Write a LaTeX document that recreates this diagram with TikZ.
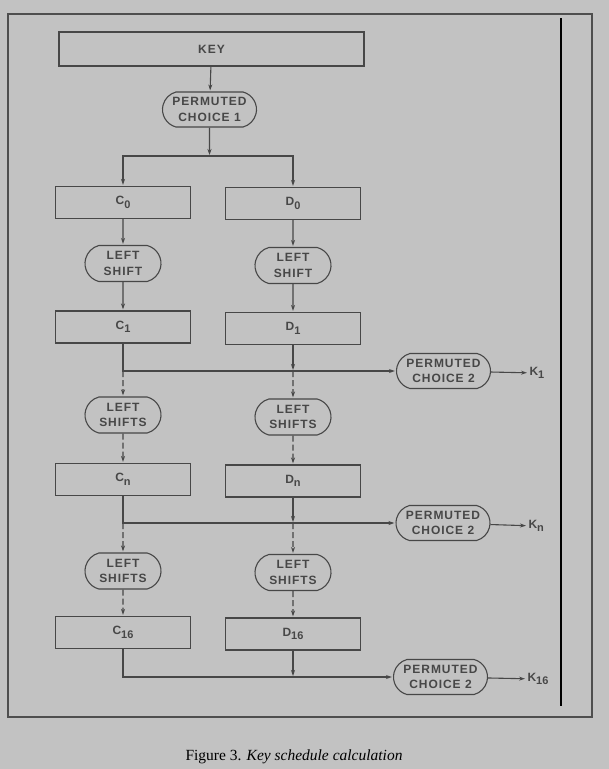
\documentclass[tikz,border=0pt]{standalone}
\usepackage{fontspec}
\setmainfont{Liberation Serif}
\newfontfamily\diafont[LetterSpace=8]{Liberation Sans}
\usepackage{tikz}
\usetikzlibrary{positioning}
\usetikzlibrary{shapes.misc}
\usetikzlibrary{arrows.meta}
\definecolor{bg}{HTML}{C2C2C2}
\definecolor{ink}{HTML}{474747}
\definecolor{frm}{HTML}{4E4E4E}
\tikzstyle{blk}=[draw,rectangle,minimum width=135pt,minimum height=32pt,inner sep=2pt]
\tikzstyle{op}=[draw,shape=rounded rectangle,rounded rectangle arc length=150,minimum width=80pt,minimum height=36pt,inner sep=2pt,align=center]
\tikzstyle{pc}=[op,minimum width=98pt,minimum height=35pt]
\tikzstyle{dsh}=[dash pattern=on 6pt off 3pt]
\tikzstyle{kl}=[inner sep=1pt,anchor=west]
\def\sub#1{\raisebox{-3.5pt}{\addfontfeature{LetterSpace=0}\fontsize{11}{11}\selectfont #1}}

\begin{document}
\begin{tikzpicture}[x=1pt,y=-1pt,shorten >=1pt,>={Stealth[length=6pt,width=4pt]},line width=1.1pt,color=ink,
    every node/.style={font=\diafont\bfseries\fontsize{12}{15.5}\selectfont}]
    \fill [bg] (0,0) rectangle (609,769);
    \useasboundingbox (0,0) rectangle (609,769);
    \draw [line width=1.6pt, frm] (8,14) rectangle (592,717);
    \draw [line width=1.3pt, black] (561,18) -- (561,707);

    \node [blk, minimum width=305pt, minimum height=34pt] (key) at (211.5,49) {KEY};
    \node [pc] (pc1)  at (209.5,109.5) {PERMUTED\\CHOICE 1};
    \coordinate (sp)  at (209.5,156);

    \node [blk] (c0)   at (123,202.5) {C\sub{0}};
    \node [blk] (d0)   at (293,203.5) {D\sub{0}};
    \node [op]  (lsc1) at (123,263.5) {LEFT\\SHIFT};
    \node [op]  (lsd1) at (293,265.5) {LEFT\\SHIFT};
    \node [blk] (c1)   at (123,327)   {C\sub{1}};
    \node [blk] (d1)   at (293,328.5) {D\sub{1}};
    \node [pc]  (p1)   at (443.5,371) {PERMUTED\\CHOICE 2};
    \node [kl]  (k1)   at (528,373)   {K\sub{1}};

    \node [op]  (lsc2) at (123,415)   {LEFT\\SHIFTS};
    \node [op]  (lsd2) at (293,417)   {LEFT\\SHIFTS};
    \node [blk] (cn)   at (123,479.5) {C\sub{n}};
    \node [blk] (dn)   at (293,481)   {D\sub{n}};
    \node [pc]  (p2)   at (443,523)   {PERMUTED\\CHOICE 2};
    \node [kl]  (kn)   at (527,526)   {K\sub{n}};

    \node [op]  (lsc3) at (123,571)   {LEFT\\SHIFTS};
    \node [op]  (lsd3) at (293,572.5) {LEFT\\SHIFTS};
    \node [blk] (c16)  at (123,632.5) {C\sub{16}};
    \node [blk] (d16)  at (293,634)   {D\sub{16}};
    \node [pc]  (p3)   at (440.5,677) {PERMUTED\\CHOICE 2};
    \node [kl]  (k16)  at (526,679)   {K\sub{16}};

    \coordinate (j1) at (c1 |- p1);
    \coordinate (j2) at (cn |- p2);
    \coordinate (j3) at (c16 |- p3);

    \path [->] (key) edge (pc1)
               (c0) edge (lsc1)  (lsc1) edge (c1)
               (d0) edge (lsd1)  (lsd1) edge (d1);
    \draw [->] (pc1) -- (sp);
    \draw [->] (sp) -| (c0);
    \draw [->] (sp) -| (d0);

    \draw [->] (c1) -- (j1) -- (p1);
    \draw [->] (d1) -- (d1 |- p1);
    \draw [->] (p1) -- (k1);
    \draw [->, dsh] (j1) -- (lsc2);
    \draw [->, dsh] (d1 |- p1) -- (lsd2);
    \draw [->, dsh] (lsc2) -- (cn);
    \draw [->, dsh] (lsd2) -- (dn);

    \draw [->] (cn) -- (j2) -- (p2);
    \draw [->] (dn) -- (dn |- p2);
    \draw [->] (p2) -- (kn);
    \draw [->, dsh] (j2) -- (lsc3);
    \draw [->, dsh] (dn |- p2) -- (lsd3);
    \draw [->, dsh] (lsc3) -- (c16);
    \draw [->, dsh] (lsd3) -- (d16);

    \draw [->] (c16) -- (j3) -- (p3);
    \draw [->] (d16) -- (d16 |- p3);
    \draw [->] (p3) -- (k16);

    \node [font=\rmfamily\fontsize{15.5}{17}\selectfont, text=black] (cap) at (294,757)
        {Figure 3. \textit{Key schedule calculation}};
\end{tikzpicture}
\end{document}
